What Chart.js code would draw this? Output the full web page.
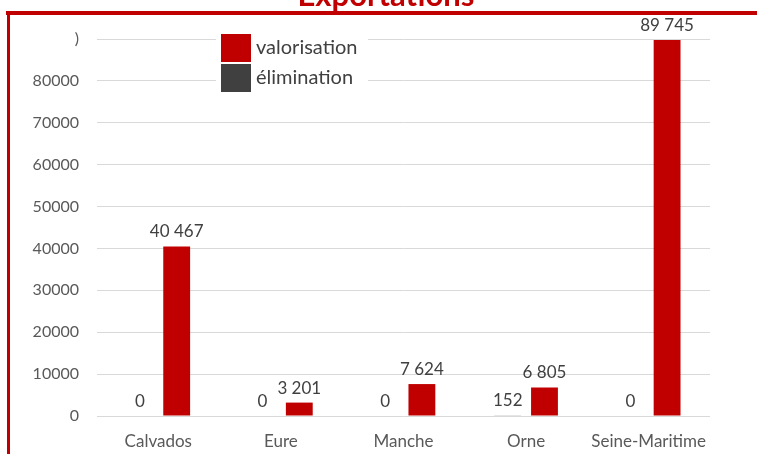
<!DOCTYPE html>
<html lang="fr">
<head>
<meta charset="utf-8">
<title>Exportations</title>
<script src="https://cdn.jsdelivr.net/npm/chart.js@4/dist/chart.umd.min.js"></script>
<style>
    html, body { margin: 0; padding: 0; background: #ffffff; }
    canvas { display: block; }
</style>
</head>
<body>
<canvas id="chart" width="757" height="454"></canvas>
<script>
// Données
const categories = ['Calvados', 'Eure', 'Manche', 'Orne', 'Seine-Maritime'];
const elimination = [0, 0, 0, 152, 0];
const valorisation = [40467, 3201, 7624, 6805, 89745];
const yTickLabels = ['0', '10000', '20000', '30000', '40000', '50000', '60000', '70000', '80000', ')'];

const RED = '#c00000';
const DARK = '#404040';
const FONT = 'Lato, "DejaVu Sans", sans-serif';

/**
 * Formate un nombre avec un espace comme séparateur de milliers (40 467)
 */
function formatNumber(n) {
    return String(n).replace(/\B(?=(\d{3})+(?!\d))/g, ' ');
}

// Titre coupé + cadre rouge
const framePlugin = {
    id: 'frame',
    afterDraw(chart) {
        const ctx = chart.ctx;
        ctx.save();
        ctx.fillStyle = RED;
        ctx.font = 'bold 31px ' + FONT;
        ctx.textAlign = 'center';
        ctx.textBaseline = 'alphabetic';
        ctx.fillText('Exportations', 386, 6);
        ctx.fillRect(6, 11, 751, 4);
        ctx.fillRect(7, 11, 3, 443);
        ctx.restore();
    }
};

// Étiquettes de valeurs au-dessus des barres
const valueLabelsPlugin = {
    id: 'valueLabels',
    afterDatasetsDraw(chart) {
        const ctx = chart.ctx;
        ctx.save();
        ctx.font = '17px ' + FONT;
        ctx.fillStyle = DARK;
        ctx.textAlign = 'center';
        ctx.textBaseline = 'alphabetic';
        chart.data.datasets.forEach((ds, i) => {
            const meta = chart.getDatasetMeta(i);
            meta.data.forEach((bar, j) => {
                ctx.fillText(formatNumber(ds.data[j]), bar.x, bar.y - 9);
            });
        });
        ctx.restore();
    }
};

// Légende dans la zone du graphique, carrés accolés
const insideLegendPlugin = {
    id: 'insideLegend',
    afterDraw(chart) {
        const ctx = chart.ctx;
        const items = chart.data.datasets.slice().reverse();
        ctx.save();
        ctx.fillStyle = '#ffffff';
        ctx.fillRect(216, 30, 152, 66);
        ctx.font = '20px ' + FONT;
        ctx.textAlign = 'left';
        ctx.textBaseline = 'middle';
        items.forEach((ds, i) => {
            const top = 34 + i * 30;
            ctx.fillStyle = ds.backgroundColor;
            ctx.fillRect(221, top, 30, 28);
            ctx.fillStyle = DARK;
            ctx.fillText(ds.label, 256, top + 14);
        });
        ctx.restore();
    }
};

const chart = new Chart(document.getElementById('chart'), {
    type: 'bar',
    data: {
        labels: categories,
        datasets: [
            {
                label: 'élimination',
                data: elimination,
                backgroundColor: DARK,
                categoryPercentage: 0.6,
                barPercentage: 0.73
            },
            {
                label: 'valorisation',
                data: valorisation,
                backgroundColor: RED,
                categoryPercentage: 0.6,
                barPercentage: 0.73
            }
        ]
    },
    options: {
        responsive: false,
        animation: false,
        devicePixelRatio: 1,
        layout: {
            padding: { top: 39, right: 47, left: 0, bottom: 0 }
        },
        plugins: {
            legend: { display: false },
            title: { display: false },
            tooltip: { enabled: false }
        },
        scales: {
            x: {
                grid: { display: false, drawTicks: false },
                border: { display: false },
                ticks: {
                    color: '#595959',
                    font: { family: FONT, size: 17 },
                    padding: 15,
                    maxRotation: 0,
                    autoSkip: false
                },
                afterFit(scale) { scale.height = 38; }
            },
            y: {
                min: 0,
                max: 90000,
                grid: { color: '#d9d9d9', lineWidth: 1, drawTicks: false },
                border: { display: false },
                ticks: {
                    stepSize: 10000,
                    color: '#595959',
                    font: { family: FONT, size: 16 },
                    padding: 18,
                    callback: (value, index) => yTickLabels[index]
                },
                afterFit(scale) { scale.width = 97; }
            }
        }
    },
    plugins: [valueLabelsPlugin, insideLegendPlugin, framePlugin]
});
</script>
</body>
</html>
